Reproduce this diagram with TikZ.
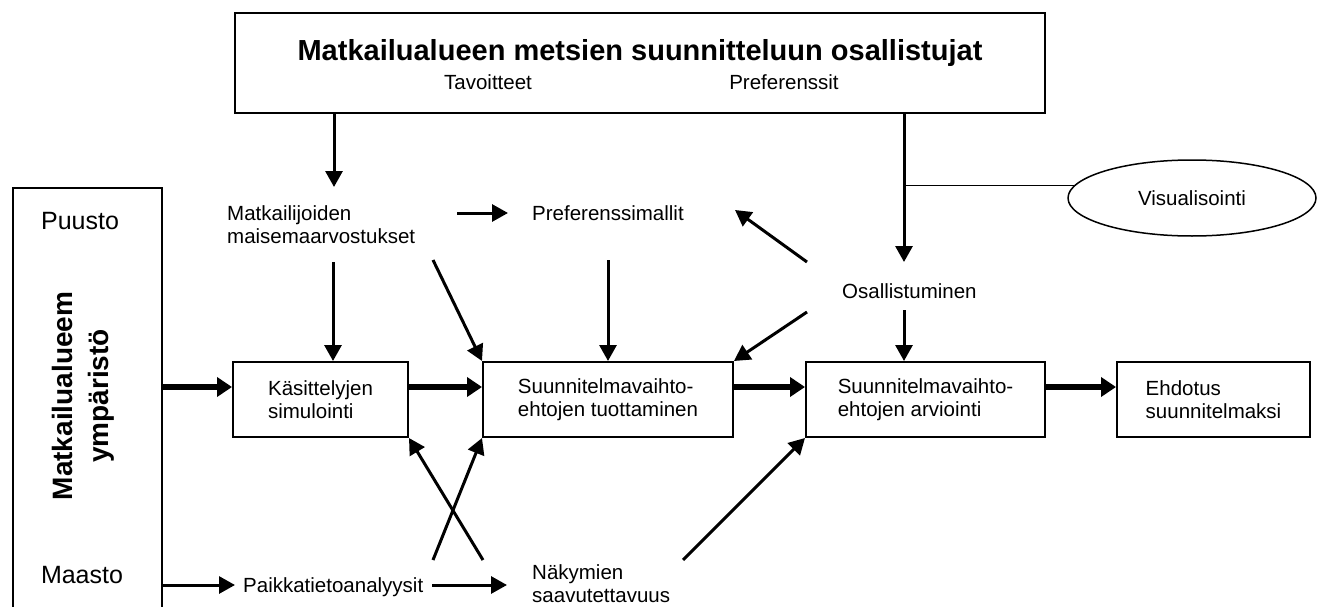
\documentclass[tikz,border=0pt]{standalone}
\usepackage{fontspec}
\setmainfont{Liberation Sans}
\usetikzlibrary{arrows.meta,shapes.geometric}
\begin{document}
\begin{tikzpicture}[x=1pt,y=-1pt,
  lbl/.style={inner sep=0pt, font=\fontsize{20.5}{23}\selectfont, align=left},
  biglbl/.style={inner sep=0pt, font=\fontsize{25}{29}\selectfont},
  procbox/.style={draw, line width=2pt, minimum height=75pt, align=left, font=\fontsize{20.5}{23}\selectfont},
  frame/.style={draw, line width=2pt},
  arr/.style={line width=3pt, -{Triangle[length=16pt,width=17pt]}},
  tarr/.style={line width=5.5pt, -{Triangle[length=15pt,width=19pt]}},
  thinline/.style={line width=1pt}
]
\useasboundingbox (0,0) rectangle (1324,607);
\clip (0,0) rectangle (1324,607);

% top box
\node[frame, minimum width=810pt, minimum height=100pt] (top) at (640,63) {};
\node[inner sep=0pt, anchor=base, font=\bfseries\fontsize{29}{34}\selectfont] (title) at (640,61) {Matkailualueen metsien suunnitteluun osallistujat};
\node[lbl, anchor=base] (tav) at (488,90) {Tavoitteet};
\node[lbl, anchor=base] (prefs) at (784,90) {Preferenssit};

% environment box
\node[frame, minimum width=149pt, minimum height=470pt, anchor=north west] (env) at (12,187) {};
\node[biglbl] (puu) at (80,221) {Puusto};
\node[biglbl] (maa) at (82,575) {Maasto};
\node[rotate=90, align=center, inner sep=0pt, font=\bfseries\fontsize{28}{36}\selectfont] (envt) at (83,396) {Matkailualueem\\ympäristö};

% process boxes
\node[procbox, minimum width=175pt] (kas) at (320.5,399.5) {Käsittelyjen\\simulointi};
\node[procbox, minimum width=250pt] (suu) at (608,399.5) {Suunnitelmavaihto-\\ehtojen tuottaminen};
\node[procbox, minimum width=239pt] (arv) at (925.5,399.5) {Suunnitelmavaihto-\\ehtojen arviointi};
\node[procbox, minimum width=193pt] (ehd) at (1213.5,399.5) {Ehdotus\\suunnitelmaksi};

% labels
\node[lbl, anchor=west] (mat) at (227,225) {Matkailijoiden\\maisemaarvostukset};
\node[lbl, anchor=west] (pre) at (532,213) {Preferenssimallit};
\node[lbl, anchor=west] (osa) at (842,291) {Osallistuminen};
\node[lbl, anchor=west] (pai) at (243,587) {Paikkatietoanalyysit};
\node[lbl, anchor=west] (nak) at (532,584) {Näkymien\\saavutettavuus};

% ellipse
\node[ellipse, draw, line width=1.5pt, minimum width=248pt, minimum height=76pt, inner sep=0pt, font=\fontsize{20.5}{23}\selectfont] (vis) at (1192,198) {Visualisointi};

% coordinates
\coordinate (a1) at (334,187);
\coordinate (oa) at (904,262);
\coordinate (m1) at (333,262);
\coordinate (m2) at (433,260);
\coordinate (m3) at (457,213);
\coordinate (p1) at (608,260);
\coordinate (o1) at (807,262);
\coordinate (p2) at (735,210);
\coordinate (o2) at (807,312);
\coordinate (o3) at (904,310);
\coordinate (ty) at (0,387);
\coordinate (by) at (0,585);
\coordinate (pb) at (235,585);
\coordinate (q1) at (432,585);
\coordinate (c1) at (433,560);
\coordinate (c2) at (483,560);
\coordinate (c3) at (683,560);

% arrows from top box
\draw[arr] (top.south -| a1) -- (a1);
\draw[arr] (top.south -| oa) -- (oa);
\draw[thinline] (vis.174) -- (vis.174 -| oa);

% middle arrows
\draw[arr] (m1) -- (kas.north -| m1);
\draw[arr] (m2) -- (suu.north west);
\draw[arr, shorten >=24pt] (m3) -- (pre.west);
\draw[arr] (p1) -- (suu.north);
\draw[arr] (o1) -- (p2);
\draw[arr] (o2) -- (suu.north east);
\draw[arr] (o3) -- (arv.north -| o3);

% main flow
\draw[tarr] (env.east |- ty) -- (kas.west |- ty);
\draw[tarr] (kas.east |- ty) -- (suu.west |- ty);
\draw[tarr] (suu.east |- ty) -- (arv.west |- ty);
\draw[tarr] (arv.east |- ty) -- (ehd.west |- ty);

% bottom
\draw[arr] (env.east |- by) -- (pb);
\draw[arr, shorten >=25pt] (q1) -- (nak.west |- q1);
\draw[arr] (c1) -- (suu.south west);
\draw[arr] (c2) -- (kas.south east);
\draw[arr] (c3) -- (arv.south west);
\end{tikzpicture}
\end{document}
